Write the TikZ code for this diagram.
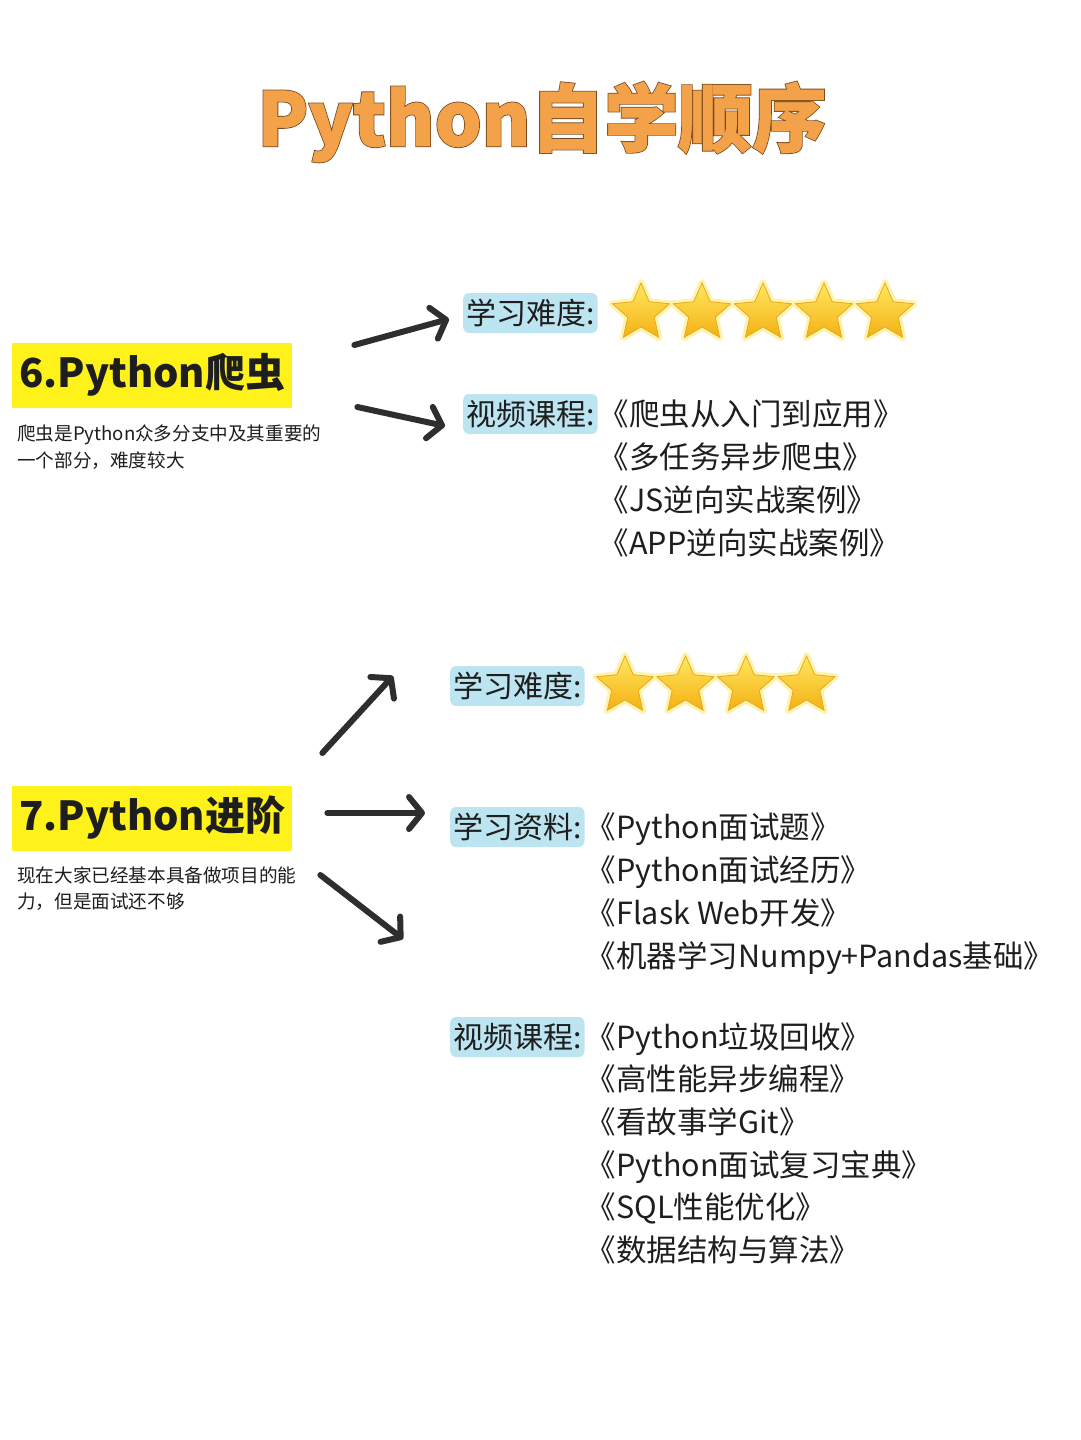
\documentclass[tikz,border=0pt]{standalone}
\usepackage{fontspec}
\setmainfont{Noto Sans CJK SC}
\newfontfamily\titleedge{Noto Sans CJK SC}[FakeBold=3.2]
\newfontfamily\titlefill{Noto Sans CJK SC}[FakeBold=1]
\usetikzlibrary{arrows.meta,positioning,shapes.geometric,calc}
\definecolor{TitleOrange}{HTML}{F4A24A}
\definecolor{TitleEdge}{HTML}{7A4A1E}
\definecolor{HeadYellow}{HTML}{FFF21A}
\definecolor{LabelBlue}{HTML}{BDE5F1}
\definecolor{StarTop}{HTML}{FFE860}
\definecolor{StarBot}{HTML}{F4B014}
\definecolor{StarEdge}{HTML}{E9A91C}
\definecolor{StarGlow}{HTML}{FFF3B0}
\definecolor{DarkText}{HTML}{1E1E1E}
\definecolor{ArrowGray}{HTML}{2E2E2E}
\tikzset{
  headbox/.style={fill=HeadYellow, inner xsep=7pt, inner ysep=6pt, minimum height=65pt, anchor=west, font=\fontsize{40}{46}\selectfont\bfseries, text=DarkText},
  desc/.style={anchor=base west, inner sep=0pt, font=\fontsize{18.6}{26}\selectfont, text=DarkText},
  labelbox/.style={fill=LabelBlue, rounded corners=6pt, inner xsep=3pt, inner ysep=2pt, minimum height=40pt, anchor=west, font=\fontsize{30}{36}\selectfont, text=DarkText},
  item/.style={anchor=base west, inner sep=0pt, font=\fontsize{30.5}{36}\selectfont, text=DarkText},
  staricon/.style={star, star points=5, star point ratio=2.15, minimum size=60pt, inner sep=0pt, top color=StarTop, bottom color=StarBot, draw=StarEdge, line width=0.8pt},
  starglow/.style={star, star points=5, star point ratio=2.15, minimum size=62pt, inner sep=0pt, draw=StarGlow, line width=6pt, line join=round},
  arr/.style={-{Straight Barb[length=13pt, width=32pt, round]}, line width=6pt, line cap=round, draw=ArrowGray}
}
\begin{document}
\begin{tikzpicture}[x=1pt,y=-1pt]
\fill[white] (0,0) rectangle (1080,1440);
\useasboundingbox (0,0) rectangle (1080,1440);

% title: dark emboldened copy under the orange one
\node[font=\fontsize{74}{80}\titleedge\bfseries, text=TitleEdge] (title edge) at (542,122) {Python自学顺序};
\node[font=\fontsize{74}{80}\titlefill\bfseries, text=TitleOrange] (title) at (title edge) {Python自学顺序};

%% section 6
\node[headbox] (sec6) at (12,375) {6.Python爬虫};
\node[desc] (desc6a) at (17,440) {爬虫是Python众多分支中及其重要的};
\node[desc] (desc6b) at (17,467) {一个部分，难度较大};

\node[labelbox] (diff6) at (463,313) {学习难度:};
\foreach \i in {0,...,4}{
  \node[starglow] (glow6-\i) at (641+61*\i,313) {};
  \node[staricon] (star6-\i) at (641+61*\i,313) {};
}

\node[labelbox] (vid6) at (463,414) {视频课程:};
\foreach \t [count=\i from 0] in {《爬虫从入门到应用》,《多任务异步爬虫》,《JS逆向实战案例》,《APP逆向实战案例》}
  \node[item] (vid6-\i) at ($(vid6.base east)+(1,43*\i)$) {\t};

\coordinate (a6s) at ($(sec6.east)+(62,-30)$);
\coordinate (a6t) at ($(sec6.east)+(65,32)$);
\draw[arr] (a6s) -- ($(diff6.west)+(-14,6)$);
\draw[arr] (a6t) -- ($(vid6.west)+(-18,12)$);

%% section 7
\node[headbox] (sec7) at (12,818) {7.Python进阶};
\node[desc] (desc7a) at (17,882) {现在大家已经基本具备做项目的能};
\node[desc] (desc7b) at (17,908) {力，但是面试还不够};

\node[labelbox] (diff7) at (450,686) {学习难度:};
\foreach \i in {0,...,3}{
  \node[starglow] (glow7-\i) at (625+60.5*\i,686) {};
  \node[staricon] (star7-\i) at (625+60.5*\i,686) {};
}

\node[labelbox] (doc7) at (450,827) {学习资料:};
\foreach \t [count=\i from 0] in {《Python面试题》,《Python面试经历》,《Flask Web开发》,《机器学习Numpy+Pandas基础》}
  \node[item] (doc7-\i) at ($(doc7.base east)+(1,43*\i)$) {\t};

\node[labelbox] (vid7) at (450,1037) {视频课程:};
\foreach \t [count=\i from 0] in {《Python垃圾回收》,《高性能异步编程》,《看故事学Git》,《Python面试复习宝典》,《SQL性能优化》,《数据结构与算法》}
  \node[item] (vid7-\i) at ($(vid7.base east)+(1,42.6*\i)$) {\t};

\coordinate (a7u) at ($(sec7.east)+(30,-65)$);
\coordinate (a7m) at ($(sec7.east)+(35,-5)$);
\coordinate (a7d) at ($(sec7.east)+(28,57)$);
\draw[arr] (a7u) -- ($(diff7.west)+(-57,-10)$);
\draw[arr] (a7m) -- ($(doc7.west)+(-25,-14)$);
\draw[arr] (a7d) -- ($(doc7.west)+(-47,112)$);
\end{tikzpicture}
\end{document}
